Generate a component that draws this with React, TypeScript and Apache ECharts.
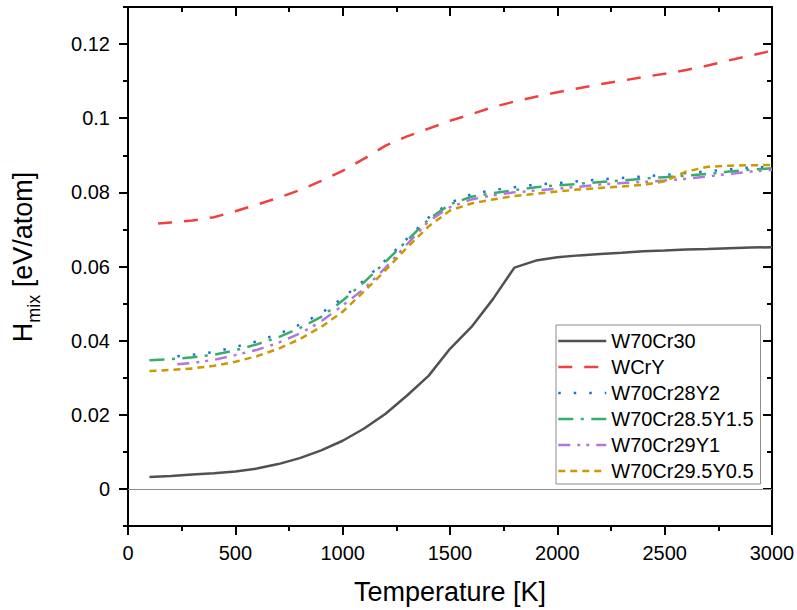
import React, { useEffect, useRef } from "react";
import * as echarts from "echarts";

// Temperature grids (K)
const TEMP_FULL = [
  100, 200, 300, 400, 500, 600, 700, 800, 900, 1000, 1100, 1200, 1300, 1400, 1500,
  1600, 1700, 1800, 1900, 2000, 2100, 2200, 2300, 2400, 2500, 2600, 2700, 2800, 2900, 3000,
];
const TEMP_WCRY = [
  140, 200, 300, 400, 500, 600, 700, 800, 900, 1000, 1100, 1200, 1300, 1400, 1500,
  1600, 1700, 1800, 1900, 2000, 2100, 2200, 2300, 2400, 2500, 2600, 2700, 2800, 2900, 3000,
];
const TEMP_Y = [
  230, 300, 400, 500, 600, 700, 800, 900, 1000, 1100, 1200, 1300, 1400, 1500,
  1600, 1700, 1800, 1900, 2000, 2100, 2200, 2300, 2400, 2500, 2600, 2700, 2800, 2900, 3000,
];

// Mixing enthalpy H_mix (eV/atom)
const H_W70CR30 = [
  0.0032, 0.0035, 0.0039, 0.0042, 0.0047, 0.0055, 0.0067, 0.0083, 0.0104, 0.013,
  0.0163, 0.0203, 0.0252, 0.0305, 0.0378, 0.0437, 0.0512, 0.0597, 0.0616, 0.0625,
  0.063, 0.0634, 0.0637, 0.0641, 0.0643, 0.0646, 0.0647, 0.0649, 0.0651, 0.0652,
];
const H_WCRY = [
  0.0716, 0.0719, 0.0724, 0.0733, 0.0749, 0.0767, 0.0785, 0.0806, 0.0831, 0.0858,
  0.0891, 0.0926, 0.0951, 0.0972, 0.0993, 0.1011, 0.103, 0.1045, 0.1058, 0.107,
  0.1081, 0.1092, 0.1101, 0.1111, 0.112, 0.113, 0.1142, 0.1156, 0.1169, 0.1182,
];
const H_W70CR28Y2 = [
  0.0358, 0.0362, 0.0369, 0.0383, 0.0398, 0.0418, 0.0443, 0.0474, 0.0515, 0.0563,
  0.0617, 0.0675, 0.0732, 0.0772, 0.0795, 0.0806, 0.0814, 0.0821, 0.0825, 0.083,
  0.0835, 0.0839, 0.0843, 0.0847, 0.0852, 0.0857, 0.0862, 0.0867, 0.0869,
];
const H_W70CR285Y15 = [
  0.0347, 0.035, 0.0355, 0.0362, 0.0374, 0.039, 0.0409, 0.0434, 0.0464, 0.0508,
  0.0558, 0.0613, 0.067, 0.0727, 0.0768, 0.0788, 0.0798, 0.0806, 0.0814, 0.0819,
  0.0823, 0.0828, 0.0832, 0.0837, 0.0841, 0.0845, 0.085, 0.0856, 0.0861, 0.0865,
];
const H_W70CR29Y1 = [
  0.0336, 0.034, 0.0348, 0.0361, 0.0375, 0.0394, 0.0419, 0.0452, 0.0495, 0.054,
  0.0597, 0.066, 0.0722, 0.076, 0.0781, 0.0792, 0.08, 0.0805, 0.081, 0.0815,
  0.0821, 0.0825, 0.0828, 0.0832, 0.0837, 0.0843, 0.085, 0.0856, 0.0861,
];
const H_W70CR295Y05 = [
  0.0318, 0.0321, 0.0325, 0.0332, 0.0343, 0.0358, 0.0378, 0.0404, 0.0437, 0.0478,
  0.0533, 0.059, 0.0651, 0.0708, 0.0751, 0.077, 0.0781, 0.079, 0.0796, 0.0802,
  0.0808, 0.0812, 0.0816, 0.082, 0.083, 0.0856, 0.0869, 0.0872, 0.0873, 0.0874,
];

const FONT = '"Liberation Sans", Arial, Helvetica, sans-serif';
const W = 797;
const H = 610;
const GRID = { left: 128, right: 25, top: 7, bottom: 84 };
const Y_MIN = -0.01;
const Y_MAX = 0.13;

const pairs = (xs: number[], ys: number[]) => xs.map((x, i) => [x, ys[i]]);

export default function App() {
  const ref = useRef<HTMLDivElement>(null);

  useEffect(() => {
    document.body.style.margin = "0";
    if (!ref.current) return;
    const chart = echarts.init(ref.current, undefined, { renderer: "svg" });

    // Second grid shifted by 0.01 so that its 0.02 ticks start at zero
    const plotH = H - GRID.top - GRID.bottom;
    const unit = plotH / ((Y_MAX - Y_MIN) * 100);

    const black = "#000";
    const tickStyle = { color: black, width: 2 };

    const line = (name: string, data: number[][], color: string, dash: any) => ({
      name,
      type: "line",
      xAxisIndex: 0,
      yAxisIndex: 0,
      data,
      symbol: "none",
      showSymbol: false,
      smooth: false,
      lineStyle: { color, width: 2.5, type: dash },
      itemStyle: { color },
      z: 3,
    });

    chart.setOption({
      animation: false,
      backgroundColor: "#fff",
      textStyle: { fontFamily: FONT },
      grid: [
        {
          left: GRID.left, right: GRID.right, top: GRID.top, bottom: GRID.bottom,
          containLabel: false, outerBoundsMode: "none",
        },
        {
          left: GRID.left, right: GRID.right, top: GRID.top - unit, bottom: GRID.bottom + unit,
          containLabel: false, outerBoundsMode: "none",
        },
      ],
      xAxis: [
        {
          gridIndex: 0,
          type: "value",
          position: "bottom",
          min: 0,
          max: 3000,
          interval: 500,
          axisLine: { show: true, onZero: false, lineStyle: { color: black, width: 2 } },
          axisTick: { show: true, inside: false, length: 9, lineStyle: tickStyle },
          minorTick: { show: true, splitNumber: 2, length: 5, lineStyle: tickStyle },
          axisLabel: {
            show: true, fontSize: 20, color: black, fontFamily: FONT, margin: 17,
            formatter: (v: number) => String(v),
          },
          splitLine: { show: false },
          name: "Temperature [K]",
          nameLocation: "middle",
          nameGap: 52,
          nameTextStyle: { fontSize: 27, color: black, fontFamily: FONT },
        },
        {
          gridIndex: 0,
          type: "value",
          position: "top",
          min: 0,
          max: 3000,
          interval: 500,
          axisLine: { show: true, onZero: false, lineStyle: { color: black, width: 2 } },
          axisTick: { show: true, inside: true, length: 9, lineStyle: tickStyle },
          minorTick: { show: true, splitNumber: 2, length: 5, lineStyle: tickStyle },
          axisLabel: { show: false },
          splitLine: { show: false },
        },
        {
          gridIndex: 1,
          type: "value",
          min: 0,
          max: 3000,
          show: false,
        },
      ],
      yAxis: [
        {
          gridIndex: 0,
          type: "value",
          position: "left",
          min: Y_MIN,
          max: Y_MAX,
          interval: 0.01,
          axisLine: { show: true, onZero: false, lineStyle: { color: black, width: 2 } },
          axisTick: { show: true, inside: false, length: 5, lineStyle: tickStyle },
          axisLabel: { show: false },
          splitLine: { show: false },
        },
        {
          gridIndex: 0,
          type: "value",
          position: "right",
          min: Y_MIN,
          max: Y_MAX,
          interval: 0.01,
          axisLine: { show: true, onZero: false, lineStyle: { color: black, width: 2 } },
          axisTick: { show: true, inside: true, length: 5, lineStyle: tickStyle },
          axisLabel: { show: false },
          splitLine: { show: false },
        },
        {
          gridIndex: 1,
          type: "value",
          position: "left",
          min: 0,
          max: 0.14,
          interval: 0.02,
          axisLine: { show: false, onZero: false },
          axisTick: { show: true, inside: false, length: 9, lineStyle: tickStyle },
          axisLabel: {
            show: true,
            fontSize: 20,
            color: black,
            fontFamily: FONT,
            margin: 18,
            formatter: (v: number) => (v > 0.13 ? "" : String(+v.toFixed(2))),
          },
          splitLine: { show: false },
        },
        {
          gridIndex: 1,
          type: "value",
          position: "right",
          min: 0,
          max: 0.14,
          interval: 0.02,
          axisLine: { show: false, onZero: false },
          axisTick: { show: true, inside: true, length: 9, lineStyle: tickStyle },
          axisLabel: { show: false },
          splitLine: { show: false },
        },
      ],
      legend: {
        orient: "vertical",
        left: 556,
        top: 325,
        padding: [6, 7, 3, 1],
        itemWidth: 48,
        itemHeight: 14,
        itemGap: 6,
        borderColor: "#8c8c8c",
        borderWidth: 1,
        backgroundColor: "#fff",
        itemStyle: { opacity: 0 },
        lineStyle: { width: 2.5 },
        textStyle: { fontSize: 20, color: black, fontFamily: FONT, lineHeight: 20 },
        data: ["W70Cr30", "WCrY", "W70Cr28Y2", "W70Cr28.5Y1.5", "W70Cr29Y1", "W70Cr29.5Y0.5"],
      },
      graphic: [
        {
          type: "text",
          x: 23,
          y: 257,
          rotation: Math.PI / 2,
          style: {
            text: "{a|H}{b|mix}{a| [eV/atom]}",
            align: "center",
            verticalAlign: "middle",
            rich: {
              a: { fontSize: 27, fontFamily: FONT, fill: black, lineHeight: 40 },
              b: { fontSize: 18, fontFamily: FONT, fill: black, lineHeight: 18, verticalAlign: "bottom" },
            },
          },
        },
      ],
      series: [
        {
          ...line("W70Cr30", pairs(TEMP_FULL, H_W70CR30), "#515151", "solid"),
          markLine: {
            silent: true,
            symbol: "none",
            label: { show: false },
            lineStyle: { color: "#8e8e8e", width: 1.2, type: "solid" },
            data: [{ yAxis: 0 }],
            z: 1,
          },
        },
        line("WCrY", pairs(TEMP_WCRY, H_WCRY), "#F14040", [14, 12]),
        line("W70Cr28Y2", pairs(TEMP_Y, H_W70CR28Y2), "#1A6FDF", [2.5, 13]),
        line("W70Cr28.5Y1.5", pairs(TEMP_FULL, H_W70CR285Y15), "#37AD6B", [15, 7.5, 3, 7.5]),
        line("W70Cr29Y1", pairs(TEMP_Y, H_W70CR29Y1), "#B177DE", [12, 7, 3, 6, 3, 7]),
        line("W70Cr29.5Y0.5", pairs(TEMP_FULL, H_W70CR295Y05), "#CC9900", [7, 5]),
      ],
    });

    return () => chart.dispose();
  }, []);

  return <div ref={ref} style={{ width: W, height: H }} />;
}
